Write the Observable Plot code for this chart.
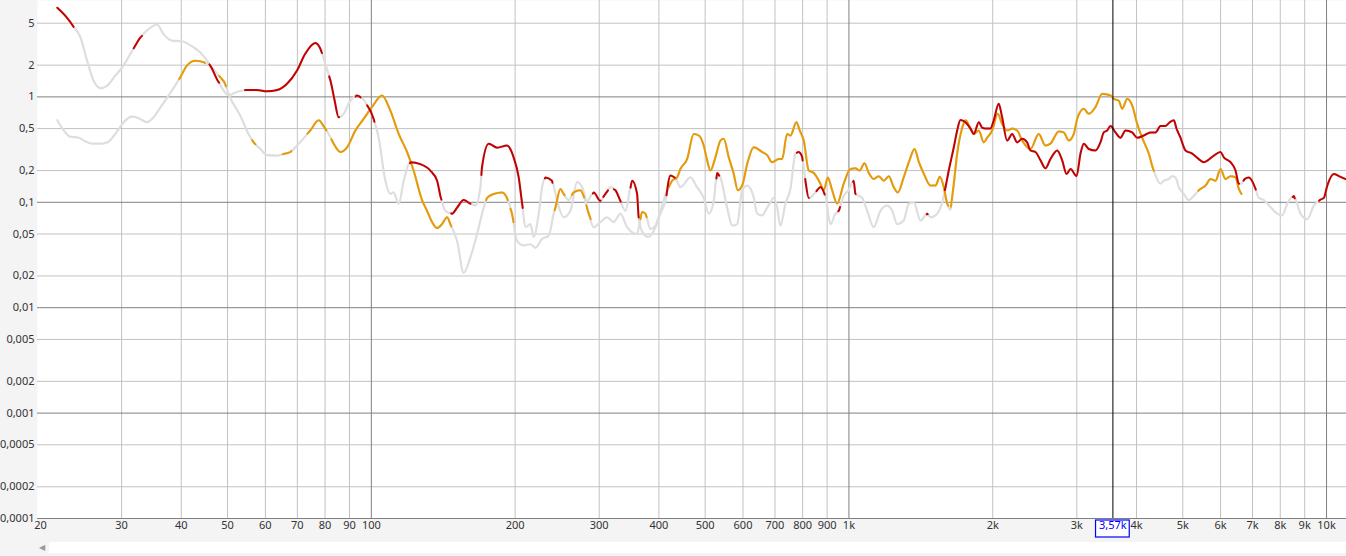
<!DOCTYPE html>
<html>
<head>
<meta charset="utf-8">
<script src="https://cdn.jsdelivr.net/npm/d3@7"></script>
<script src="https://cdn.jsdelivr.net/npm/@observablehq/plot@0.6"></script>
<style>
  html, body { margin: 0; padding: 0; background: #f4f4f4; }
  #chart svg { display: block; }
</style>
</head>
<body>
<div id="chart"></div>
<div style="position:relative;height:15px;background:#f4f4f4;">
  <div style="position:absolute;left:49px;right:0;top:1px;height:11px;background:#fff;"></div>
  <div style="position:absolute;left:39px;top:1px;height:11px;line-height:11px;font-size:8px;color:#9a9a9a;font-family:'DejaVu Sans';">◀</div>
</div>
<script>
// ---- data: [frequency Hz, value] ----
const redPoints = [[22.0,7.0],[23.0,5.7],[23.7,4.75],[24.6,3.68],[25.4,2.21],[26.2,1.43],[27.1,1.21],[28.0,1.28],[29.1,1.59],[30.1,1.91],[31.3,2.56],[31.9,2.96],[32.8,3.63],[33.9,4.26],[35.6,4.86],[36.7,3.96],[38.2,3.42],[40.1,3.37],[42.4,2.96],[43.8,2.65],[46.0,1.98],[47.9,1.38],[50.3,1.03],[51.9,1.1],[54.5,1.16],[57.6,1.16],[60.5,1.13],[63.5,1.16],[66.6,1.33],[69.9,1.78],[72.7,2.56],[76.3,3.25],[78.5,2.75],[80.1,2.06],[82.1,1.43],[83.8,0.92],[85.4,0.64],[87.5,0.69],[90.4,0.92],[93.3,1.03],[95.8,0.97],[97.9,0.84],[101.1,0.62],[103.6,0.41],[107.0,0.16],[109.6,0.12],[111.3,0.124],[114.1,0.097],[116.9,0.16],[120.7,0.24],[126.7,0.23],[132.9,0.2],[137.3,0.16],[140.0,0.108],[142.9,0.083],[147.6,0.078],[151.2,0.089],[156.1,0.105],[161.2,0.097],[165.1,0.093],[169.2,0.139],[170.5,0.215],[176.1,0.36],[183.4,0.33],[192.3,0.345],[198.6,0.267],[203.5,0.172],[206.9,0.097],[210.2,0.058],[215.3,0.062],[218.8,0.047],[224.1,0.078],[227.8,0.139],[231.4,0.172],[238.9,0.16],[244.8,0.103],[252.7,0.072],[261.1,0.083],[269.7,0.155],[276.3,0.139],[283.0,0.103],[292.2,0.124],[301.7,0.103],[309.1,0.12],[316.6,0.139],[324.3,0.13],[332.3,0.103],[340.4,0.083],[351.6,0.16],[360.1,0.12],[362.9,0.072],[368.9,0.053],[380.3,0.047],[393.4,0.058],[402.9,0.078],[412.8,0.103],[422.9,0.18],[433.2,0.17],[443.7,0.139],[465.7,0.172],[480.9,0.139],[496.6,0.11],[508.7,0.078],[521.2,0.103],[529.7,0.19],[538.3,0.172],[555.9,0.089],[569.5,0.06],[583.4,0.062],[597.6,0.13],[612.2,0.144],[632.0,0.111],[642.4,0.078],[658.0,0.075],[674.1,0.089],[684.9,0.1],[695.9,0.11],[707.4,0.089],[718.7,0.06],[736.3,0.097],[754.3,0.134],[772.7,0.29],[783.9,0.3],[798.0,0.27],[810.9,0.16],[823.9,0.11],[837.5,0.115],[858.0,0.13],[871.8,0.14],[893.1,0.115],[914.9,0.062],[937.0,0.078],[952.0,0.083],[975.2,0.115],[997.7,0.13],[1023,0.16],[1032,0.12],[1066,0.11],[1092,0.083],[1127,0.058],[1164,0.083],[1202,0.093],[1232,0.083],[1262,0.062],[1302,0.067],[1334,0.097],[1367,0.1],[1412,0.067],[1458,0.078],[1482,0.072],[1530,0.078],[1568,0.1],[1593,0.139],[1618,0.2],[1658,0.333],[1685,0.48],[1712,0.605],[1754,0.575],[1797,0.5],[1826,0.445],[1870,0.575],[1901,0.51],[1947,0.5],[1978,0.5],[2010,0.6],[2059,0.86],[2093,0.64],[2144,0.385],[2197,0.445],[2250,0.37],[2305,0.4],[2361,0.37],[2399,0.31],[2458,0.3],[2518,0.25],[2579,0.21],[2642,0.257],[2729,0.31],[2796,0.25],[2855,0.186],[2911,0.207],[2996,0.177],[3054,0.29],[3103,0.36],[3178,0.32],[3282,0.31],[3362,0.37],[3416,0.46],[3473,0.48],[3529,0.53],[3615,0.46],[3703,0.41],[3794,0.48],[3918,0.46],[4014,0.41],[4144,0.43],[4279,0.46],[4384,0.46],[4491,0.53],[4600,0.53],[4697,0.575],[4789,0.6],[4852,0.5],[4945,0.41],[5066,0.31],[5232,0.29],[5402,0.257],[5534,0.24],[5641,0.25],[5807,0.277],[5998,0.3],[6094,0.267],[6295,0.24],[6449,0.2],[6552,0.15],[6637,0.15],[6735,0.166],[6876,0.172],[7101,0.134],[7215,0.11],[7391,0.105],[7633,0.09],[7883,0.078],[8076,0.075],[8273,0.097],[8541,0.115],[8820,0.078],[9112,0.069],[9407,0.093],[9683,0.105],[9872,0.11],[10035,0.144],[10359,0.186],[10612,0.177],[10961,0.166]];

const orangePoints = [[22.0,0.6],[22.7,0.48],[23.4,0.42],[24.4,0.41],[25.0,0.385],[26.0,0.36],[27.1,0.36],[28.0,0.37],[29.1,0.445],[30.3,0.575],[31.5,0.65],[32.5,0.63],[33.9,0.575],[35.0,0.64],[36.2,0.8],[38.0,1.1],[39.8,1.53],[41.1,1.98],[42.8,2.2],[44.6,2.13],[46.3,1.9],[48.3,1.53],[49.4,1.33],[50.4,1.03],[53.2,0.66],[55.3,0.445],[56.7,0.37],[58.6,0.32],[60.5,0.28],[63.5,0.277],[65.5,0.287],[67.7,0.3],[69.9,0.345],[74.5,0.48],[77.6,0.6],[79.4,0.53],[81.4,0.445],[83.4,0.36],[86.1,0.3],[88.9,0.33],[92.6,0.48],[96.4,0.62],[100.3,0.8],[105.3,1.03],[109.6,0.74],[114.1,0.445],[118.8,0.3],[122.6,0.2],[127.7,0.105],[130.8,0.083],[134.0,0.065],[137.3,0.057],[140.6,0.062],[144.1,0.072],[146.4,0.062],[151.2,0.043],[156.1,0.0214],[161.2,0.03],[166.5,0.05],[171.9,0.089],[174.7,0.11],[180.4,0.12],[187.8,0.124],[192.3,0.11],[197.0,0.078],[201.9,0.043],[208.4,0.039],[215.3,0.04],[220.6,0.037],[227.8,0.045],[235.1,0.048],[240.9,0.078],[242.9,0.089],[248.8,0.134],[252.7,0.12],[258.9,0.105],[265.2,0.124],[273.9,0.13],[279.3,0.11],[285.2,0.078],[292.2,0.058],[301.7,0.065],[311.6,0.072],[321.8,0.065],[332.3,0.078],[343.2,0.058],[360.1,0.05],[368.9,0.081],[374.8,0.078],[384.0,0.056],[393.4,0.06],[402.9,0.083],[416.3,0.13],[426.4,0.16],[436.8,0.172],[443.7,0.207],[458.3,0.257],[473.2,0.445],[484.8,0.43],[496.6,0.345],[504.7,0.25],[512.8,0.2],[525.3,0.267],[538.3,0.385],[546.8,0.4],[560.2,0.267],[573.9,0.186],[585.0,0.13],[597.6,0.144],[612.2,0.23],[632.0,0.333],[658.0,0.3],[674.1,0.28],[690.6,0.24],[712.9,0.257],[724.6,0.257],[742.3,0.445],[754.3,0.43],[776.3,0.575],[788.8,0.48],[804.2,0.385],[823.9,0.2],[844.0,0.19],[871.8,0.15],[885.8,0.13],[903.2,0.172],[922.3,0.13],[944.7,0.097],[975.2,0.15],[1007,0.207],[1032,0.21],[1053,0.2],[1078,0.235],[1100,0.19],[1127,0.166],[1154,0.177],[1183,0.16],[1212,0.177],[1241,0.139],[1266,0.124],[1302,0.172],[1339,0.25],[1372,0.32],[1401,0.24],[1435,0.186],[1482,0.144],[1518,0.144],[1550,0.175],[1580,0.139],[1606,0.097],[1632,0.085],[1658,0.15],[1685,0.29],[1727,0.51],[1754,0.6],[1797,0.5],[1826,0.445],[1870,0.48],[1916,0.37],[1947,0.41],[1995,0.48],[2049,0.69],[2093,0.555],[2144,0.48],[2197,0.5],[2250,0.48],[2305,0.385],[2399,0.32],[2497,0.445],[2579,0.345],[2642,0.36],[2750,0.47],[2817,0.46],[2886,0.385],[2957,0.445],[3006,0.62],[3103,0.77],[3178,0.69],[3282,0.8],[3391,1.07],[3529,1.03],[3584,0.96],[3673,0.92],[3734,0.77],[3825,0.96],[3918,0.83],[4014,0.555],[4111,0.41],[4244,0.29],[4348,0.2],[4491,0.15],[4563,0.16],[4674,0.166],[4751,0.177],[4828,0.172],[4906,0.139],[5026,0.12],[5148,0.105],[5273,0.115],[5402,0.13],[5580,0.144],[5716,0.166],[5855,0.16],[5998,0.207],[6144,0.166],[6295,0.177],[6449,0.172],[6552,0.134],[6637,0.12]];

// frequency ranges where each trace is drawn in its own colour (grey elsewhere)
const redColoredRanges = [[21.9,23.8],[31.8,33.1],[45.8,48.0],[54.4,78.8],[81.6,85.6],[92.7,95.0],[98.0,101.5],[120.5,140.2],[147,161.3],[170,207.5],[231,239.5],[291,302],[306,313],[322,333],[349,363],[415,432],[528,535],[778,800],[810,824],[855,890],[950,958],[1020,1033],[1455,1462],[1588,6560],[6700,7110],[8500,8580],[9650,11000]];
const orangeColoredRanges = [[39.6,44.8],[48.0,49.6],[56.3,57.2],[65.3,68],[73.5,80.5],[82.5,147],[174,193],[195.5,198.5],[242,254],[263,279],[282,288],[366,377],[420,1615],[1635,4350],[5390,6640]];

const xTicks = [20,30,40,50,60,70,80,90,100,200,300,400,500,600,700,800,900,1000,2000,3000,4000,5000,6000,7000,8000,9000,10000];
const yTicks = [5,2,1,0.5,0.2,0.1,0.05,0.02,0.01,0.005,0.002,0.001,0.0005,0.0002,0.0001];
const cursorFreq = 3570;
const cursorLabel = "3,57k";

// ---- helpers ----
const isDecade = d => Math.abs(Math.log10(d) - Math.round(Math.log10(d))) < 1e-9;
const fmtX = d => d >= 1000 ? (d / 1000) + "k" : String(d);
const fmtY = d => String(d).replace(".", ",");

function toRows(points) { return points.map(([f, v]) => ({f, v})); }
function segments(points, ranges) {
  const lf = points.map(p => Math.log(p[0])), lv = points.map(p => Math.log(p[1]));
  const at = f => {
    const l = Math.log(f);
    let i = 0;
    while (i < lf.length - 2 && lf[i + 1] < l) i++;
    const t = Math.max(0, Math.min(1, (l - lf[i]) / (lf[i + 1] - lf[i])));
    return Math.exp(lv[i] + t * (lv[i + 1] - lv[i]));
  };
  const out = [];
  const fmin = points[0][0], fmax = points[points.length - 1][0];
  ranges.forEach(([a, b], k) => {
    const a2 = Math.max(a, fmin), b2 = Math.min(b, fmax);
    if (b2 <= a2) return;
    out.push({f: a2, v: at(a2), k});
    points.forEach(([f, v]) => { if (f > a2 && f < b2) out.push({f, v, k}); });
    out.push({f: b2, v: at(b2), k});
  });
  return out;
}

const RED = "#c40000", ORANGE = "#e89a00", GREY = "#dedede";
const FONT = "'Noto Sans', 'Open Sans', sans-serif";
const W = 1346, H = 541, MB = 23, ML = 37;

const chart = Plot.plot({
  width: W,
  height: H,
  marginLeft: ML,
  marginRight: 0,
  marginTop: 0,
  marginBottom: MB,
  style: {fontFamily: FONT, fontSize: "11px", color: "#333", background: "transparent"},
  x: {type: "log", domain: [20, 11010], axis: null},
  y: {type: "log", domain: [0.0001, 8.21], axis: null},
  marks: [
    Plot.frame({fill: "white", stroke: null}),
    Plot.ruleY(yTicks.filter(d => !isDecade(d)), {stroke: "#c2c2c2", strokeWidth: 1}),
    Plot.ruleX(xTicks.filter(d => !isDecade(d) && d !== 20), {stroke: "#c2c2c2", strokeWidth: 1}),
    Plot.ruleY(yTicks.filter(isDecade), {stroke: "#808080", strokeWidth: 1}),
    Plot.ruleX(xTicks.filter(d => isDecade(d)), {stroke: "#808080", strokeWidth: 1}),
    Plot.line(toRows(redPoints), {x: "f", y: "v", stroke: GREY, strokeWidth: 2.2, curve: "monotone-x"}),
    Plot.line(toRows(orangePoints), {x: "f", y: "v", stroke: GREY, strokeWidth: 2.2, curve: "monotone-x"}),
    Plot.line(segments(orangePoints, orangeColoredRanges), {x: "f", y: "v", z: "k", stroke: ORANGE, strokeWidth: 2, curve: "monotone-x"}),
    Plot.line(segments(redPoints, redColoredRanges), {x: "f", y: "v", z: "k", stroke: RED, strokeWidth: 2, curve: "monotone-x"}),
    Plot.ruleX([cursorFreq], {stroke: "#000", strokeWidth: 1}),
    // tick labels
    Plot.text(yTicks, {y: d => d, frameAnchor: "left", textAnchor: "end", dx: -3, text: fmtY, fill: "#333"}),
    Plot.text(xTicks.slice(0, 1), {x: d => d, frameAnchor: "bottom", dy: 10, dx: 3, text: fmtX, fill: "#333"}),
    Plot.text(xTicks.slice(1), {x: d => d, frameAnchor: "bottom", dy: 10, text: fmtX, fill: "#333"}),
    Plot.text([cursorFreq], {x: d => d, frameAnchor: "bottom", dy: 10, text: () => cursorLabel, fill: "#0000ff"})
  ]
});
document.getElementById("chart").appendChild(chart);

// box around the cursor read-out (placed in the svg root, behind the label group)
const svg = document.querySelector("#chart svg");
const xs = chart.scale("x").apply(cursorFreq);
const ctx = document.createElement("canvas").getContext("2d");
ctx.font = "11px " + FONT;
const tw = ctx.measureText(cursorLabel).width;
svg.querySelectorAll("text").forEach(t => {
  if (t.textContent === cursorLabel) {
    const g = t.parentNode;
    const r = document.createElementNS("http://www.w3.org/2000/svg", "rect");
    r.setAttribute("x", xs - tw / 2 - 3);
    r.setAttribute("y", H - MB + 2);
    r.setAttribute("width", tw + 6);
    r.setAttribute("height", 17);
    r.setAttribute("fill", "#fff");
    r.setAttribute("stroke", "#0000ff");
    r.setAttribute("stroke-width", 1.2);
    g.parentNode.insertBefore(r, g);
  }
});
</script>
</body>
</html>
